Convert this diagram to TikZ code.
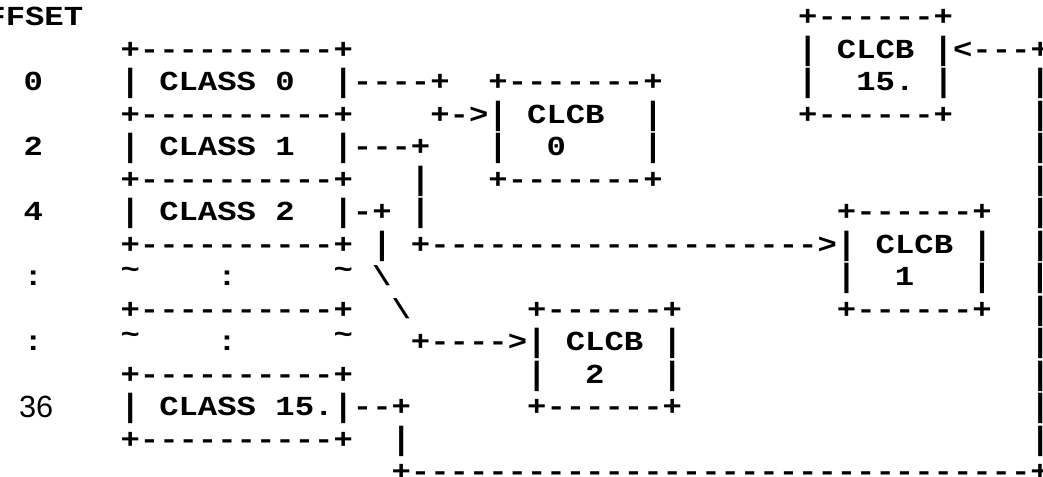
\documentclass[tikz,border=0pt]{standalone}
\usepackage{fontspec}
\setmonofont{Liberation Mono}
\newfontfamily\labelfont{Liberation Sans}
\usepackage{graphicx}
\usetikzlibrary{positioning}
\newcommand{\gap}[1]{\hspace*{#1\dimexpr0.6em\relax}}
\newcommand{\tld}{\raisebox{.25em}{\textasciitilde}}
\newcommand{\vb}{\raisebox{-.03em}{\scalebox{1}[1.17]{|}}}
\newcommand{\art}[1]{\scalebox{1.1733}[1]{#1}}

\begin{document}
\begin{tikzpicture}[
    x=14.52pt, y=-24.375pt,
    asc/.style={inner sep=0pt, anchor=base west,
                font=\ttfamily\bfseries\fontsize{20.625pt}{24pt}\selectfont},
    num/.style={inner sep=0pt, font=\labelfont\fontsize{23pt}{24pt}\selectfont}
  ]
  \useasboundingbox (-0.7128,-0.523) rectangle (53.16,14.123);
  \fill[white] (-0.7128,-0.523) rectangle (53.16,14.123);
  \clip (-0.7128,-0.523) rectangle (53.16,14.123);
  % offset column header and the odd one in the left column
  \node[asc, anchor=base east] (offset) at (3.6,0.27) {\art{OFFSET}};
  \node[num] (n36) at (1.15,12) {36};
  % the table, the control blocks and the links, one line at a time
  \node[asc] (r0) at (-0.5,0.27) {\art{\gap{41}+------+}};
  \node[asc] (r1) at (-0.5,1.27) {\art{\gap{6}+----------+\gap{23}\vb\gap{1}CLCB\gap{1}\vb<---+}};
  \node[asc] (r2) at (-0.5,2.27) {\art{\gap{1}0\gap{4}\vb\gap{1}CLASS\gap{1}0\gap{2}\vb----+\gap{2}+-------+\gap{7}\vb\gap{2}15.\gap{1}\vb\gap{4}\vb}};
  \node[asc] (r3) at (-0.5,3.27) {\art{\gap{6}+----------+\gap{4}+->\vb\gap{1}CLCB\gap{2}\vb\gap{7}+------+\gap{4}\vb}};
  \node[asc] (r4) at (-0.5,4.27) {\art{\gap{1}2\gap{4}\vb\gap{1}CLASS\gap{1}1\gap{2}\vb---+\gap{3}\vb\gap{2}0\gap{4}\vb\gap{19}\vb}};
  \node[asc] (r5) at (-0.5,5.27) {\art{\gap{6}+----------+\gap{3}\vb\gap{3}+-------+\gap{19}\vb}};
  \node[asc] (r6) at (-0.5,6.27) {\art{\gap{1}4\gap{4}\vb\gap{1}CLASS\gap{1}2\gap{2}\vb-+\gap{1}\vb\gap{21}+------+\gap{2}\vb}};
  \node[asc] (r7) at (-0.5,7.27) {\art{\gap{6}+----------+\gap{1}\vb\gap{1}+-------------------->\vb\gap{1}CLCB\gap{1}\vb\gap{2}\vb}};
  \node[asc] (r8) at (-0.5,8.27) {\art{\gap{1}:\gap{4}\tld\gap{4}:\gap{5}\tld\gap{1}\textbackslash\gap{23}\vb\gap{2}1\gap{3}\vb\gap{2}\vb}};
  \node[asc] (r9) at (-0.5,9.27) {\art{\gap{6}+----------+\gap{2}\textbackslash\gap{6}+------+\gap{8}+------+\gap{2}\vb}};
  \node[asc] (r10) at (-0.5,10.27) {\art{\gap{1}:\gap{4}\tld\gap{4}:\gap{5}\tld\gap{3}+---->\vb\gap{1}CLCB\gap{1}\vb\gap{18}\vb}};
  \node[asc] (r11) at (-0.5,11.27) {\art{\gap{6}+----------+\gap{9}\vb\gap{2}2\gap{3}\vb\gap{18}\vb}};
  \node[asc] (r12) at (-0.5,12.27) {\art{\gap{6}\vb\gap{1}CLASS\gap{1}15.\vb--+\gap{6}+------+\gap{18}\vb}};
  \node[asc] (r13) at (-0.5,13.27) {\art{\gap{6}+----------+\gap{2}\vb\gap{32}\vb}};
  \node[asc] (r14) at (-0.5,14.27) {\art{\gap{20}+--------------------------------+}};
\end{tikzpicture}
\end{document}
